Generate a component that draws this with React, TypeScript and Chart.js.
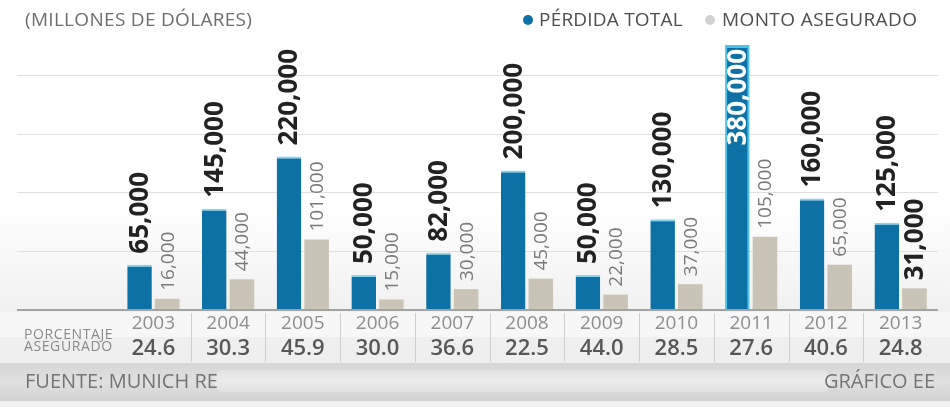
import React, { useEffect, useRef } from "react";
import { Chart, registerables } from "chart.js";

Chart.register(...registerables);

const years = ["2003", "2004", "2005", "2006", "2007", "2008", "2009", "2010", "2011", "2012", "2013"];
const perdidaTotal = [65000, 145000, 220000, 50000, 82000, 200000, 50000, 130000, 380000, 160000, 125000];
const montoAsegurado = [16000, 44000, 101000, 15000, 30000, 45000, 22000, 37000, 105000, 65000, 31000];
const porcentajeAsegurado = ["24.6", "30.3", "45.9", "30.0", "36.6", "22.5", "44.0", "28.5", "27.6", "40.6", "24.8"];
const gridValues = [0, 84000, 168000, 252000, 336000];
const yMax = 420000;

const BLUE = "#0d71a5";
const GREY = "#c9c4b6";
const FONT = '"Open Sans", "DejaVu Sans", sans-serif';

const fmt = (v: number) => v.toLocaleString("en-US");

const infoPlugin = {
  id: "infoLabels",
  afterDatasetsDraw(chart: any) {
    const ctx = chart.ctx as CanvasRenderingContext2D;
    const xs = chart.scales.x;
    ctx.save();
    chart.data.datasets.forEach((ds: any, di: number) => {
      const meta = chart.getDatasetMeta(di);
      meta.data.forEach((bar: any, i: number) => {
        const v = ds.data[i] as number;
        const { x: bx, y: by } = bar.getProps(["x", "y"], true);
        const inside = di === 0 && i === 8;
        const strong = di === 0 || (di === 1 && i === 10);
        ctx.save();
        ctx.font = strong ? `bold 26px ${FONT}` : `19px ${FONT}`;
        ctx.fillStyle = inside ? "#ffffff" : strong ? "#222222" : "#7a7a7a";
        ctx.translate(bx + 1, inside ? by + 4 : by - (di === 0 ? 11 : 8));
        ctx.rotate(-Math.PI / 2);
        ctx.textAlign = inside ? "right" : "left";
        ctx.textBaseline = "middle";
        ctx.fillText(fmt(v), 0, 0);
        ctx.restore();
      });
    });

    // table rows
    ctx.textAlign = "center";
    ctx.textBaseline = "middle";
    years.forEach((yr, i) => {
      const cx = xs.getPixelForValue(i);
      ctx.font = `19px ${FONT}`;
      ctx.fillStyle = "#8e8e8e";
      ctx.fillText(yr, cx, 324);
      ctx.font = `600 22px ${FONT}`;
      ctx.fillStyle = "#575757";
      ctx.fillText(porcentajeAsegurado[i], cx, 349);
      if (i < years.length - 1) {
        const sx = Math.round((cx + xs.getPixelForValue(i + 1)) / 2) + 0.5;
        ctx.strokeStyle = "#cfcfcf";
        ctx.lineWidth = 1;
        ctx.beginPath();
        ctx.moveTo(sx, 313);
        ctx.lineTo(sx, 362);
        ctx.stroke();
      }
    });
    ctx.restore();
  },
};

export default function App() {
  const ref = useRef<HTMLCanvasElement | null>(null);

  useEffect(() => {
    if (!ref.current) return;
    const chart = new Chart(ref.current, {
      type: "bar",
      data: {
        labels: years,
        datasets: [
          {
            label: "PÉRDIDA TOTAL",
            data: perdidaTotal,
            backgroundColor: BLUE,
            borderColor: (c: any) => (c.dataIndex === 8 ? "#4fc2ea" : "#86d4ee"),
            borderWidth: (c: any) =>
              c.dataIndex === 8
                ? { top: 3, left: 2, right: 2, bottom: 0 }
                : { top: 2, left: 0, right: 0, bottom: 0 },
            categoryPercentage: 0.74,
            barPercentage: 0.89,
          },
          {
            label: "MONTO ASEGURADO",
            data: montoAsegurado,
            backgroundColor: GREY,
            categoryPercentage: 0.74,
            barPercentage: 0.89,
          },
        ],
      },
      options: {
        animation: false,
        responsive: true,
        maintainAspectRatio: false,
        layout: { padding: { left: 17, right: 12, top: 17, bottom: 97 } },
        plugins: {
          legend: { display: false },
          tooltip: { enabled: false },
          title: { display: false },
        },
        scales: {
          x: { display: false },
          y: {
            position: "left",
            min: 0,
            max: yMax,
            afterBuildTicks: (s: any) => {
              s.ticks = gridValues.map((v) => ({ value: v }));
            },
            ticks: { display: false },
            border: { display: false },
            grid: {
              drawTicks: true,
              tickLength: 99,
              color: (c: any) => (c.tick && c.tick.value === 0 ? "#a3a3a3" : "#e0e0e0"),
              lineWidth: (c: any) => (c.tick && c.tick.value === 0 ? 2 : 1),
            },
          },
        },
      },
      plugins: [infoPlugin],
    } as any);
    return () => chart.destroy();
  }, []);

  const txt: React.CSSProperties = {
    position: "absolute",
    fontFamily: FONT,
    whiteSpace: "nowrap",
    lineHeight: 1,
  };

  return (
    <div
      style={{
        position: "fixed",
        left: 0,
        top: 0,
        width: 950,
        height: 407,
        overflow: "hidden",
        background: "linear-gradient(to bottom, #ffffff 0%, #ffffff 50%, #f1f1f1 76%, #f3f3f3 100%)",
      }}
    >
      <div style={{ position: "absolute", left: 0, top: 312, width: 950, height: 26, background: "#f7f7f7" }} />
      <div style={{ position: "absolute", left: 0, top: 337, width: 950, height: 26, background: "#efefef" }} />
      <div
        style={{
          position: "absolute",
          left: 0,
          top: 363,
          width: 950,
          height: 38,
          background: "linear-gradient(to bottom, #d6d6d6, #e0e0e0 50%, #d2d2d2)",
        }}
      />
      <div
        style={{
          position: "absolute",
          left: 215,
          top: 370,
          width: 615,
          height: 22,
          borderRadius: 8,
          background: "linear-gradient(to bottom, #e2e2e2, #ececec 50%, #e0e0e0)",
        }}
      />
      <div style={{ position: "absolute", left: 0, top: 401, width: 950, height: 6, background: "#f2f2f2" }} />

      <canvas ref={ref} style={{ position: "absolute", left: 0, top: 0, width: 950, height: 407 }} width={950} height={407} />
      <div style={{ position: "absolute", left: 0, top: 0, width: 950, height: 407 }}>
        <div style={{ ...txt, left: 25, top: 10, fontSize: 19, color: "#6e6e6e", letterSpacing: 0.3 }}>(MILLONES DE DÓLARES)</div>
        <div style={{ position: "absolute", left: 523, top: 15, width: 10, height: 10, borderRadius: 5, background: BLUE }} />
        <div style={{ ...txt, left: 539, top: 10, fontSize: 19, color: "#4e4e4e", letterSpacing: 0.2 }}>PÉRDIDA TOTAL</div>
        <div style={{ position: "absolute", left: 705, top: 15, width: 10, height: 10, borderRadius: 5, background: "#d2d2d2" }} />
        <div style={{ ...txt, left: 722, top: 10, fontSize: 19, color: "#4e4e4e", letterSpacing: 0.4 }}>MONTO ASEGURADO</div>

        <div style={{ ...txt, left: 24, top: 327, fontSize: 14, color: "#8a8a8a", letterSpacing: 0.6 }}>PORCENTAJE</div>
        <div style={{ ...txt, left: 24, top: 339, fontSize: 14, color: "#8a8a8a", letterSpacing: 0.6 }}>ASEGURADO</div>

        <div style={{ ...txt, left: 25, top: 371, fontSize: 20, color: "#747474", letterSpacing: 0 }}>FUENTE: MUNICH RE</div>
        <div style={{ ...txt, right: 15, top: 371, fontSize: 20, color: "#747474", letterSpacing: 0 }}>GRÁFICO EE</div>
      </div>
    </div>
  );
}
